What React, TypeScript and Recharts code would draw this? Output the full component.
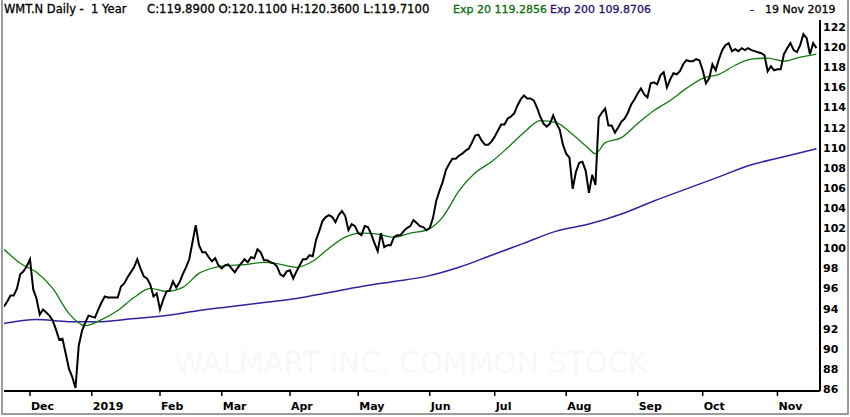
import React from "react"
import { LineChart, Line, XAxis, YAxis } from "recharts"

// daily closes, WMT.N, 20 Nov 2018 - 19 Nov 2019 (trading day index = position)
const closes = [
  94.2, 94.7, 95.3, 95.3, 96.0, 97.4, 97.7, 98.2, 98.9, 95.9,
  95.0, 93.4, 93.9, 93.6, 93.3, 92.8, 91.9, 90.9, 91.0, 89.5,
  88.0, 87.2, 86.1, 90.3, 91.8, 92.6, 93.3, 93.2, 93.1, 93.9,
  94.6, 95.2, 95.1, 95.1, 95.1, 95.1, 96.2, 96.5, 97.1, 97.6,
  98.1, 98.9, 98.0, 97.2, 97.0, 96.4, 95.2, 95.5, 93.9, 94.9,
  95.7, 95.8, 96.7, 96.1, 96.6, 97.4, 98.1, 98.9, 100.6, 102.3,
  100.3, 99.6, 99.6, 99.1, 98.7, 99.0, 98.3, 98.0, 98.3, 98.4,
  98.0, 97.6, 98.1, 98.5, 98.9, 98.6, 99.1, 99.0, 99.9, 99.6,
  98.8, 98.8, 98.6, 98.5, 98.2, 97.4, 97.2, 97.7, 97.8, 97.0,
  97.7, 98.3, 98.9, 98.9, 99.3, 99.2, 100.8, 101.7, 102.7, 103.1,
  103.3, 103.1, 102.6, 103.3, 103.7, 103.2, 101.8, 102.4, 102.2, 101.5,
  101.3, 102.2, 102.1, 101.4, 100.5, 99.7, 101.5, 100.1, 100.3, 100.3,
  101.1, 101.3, 101.3, 101.7, 102.0, 102.2, 102.8, 102.5, 102.2, 102.1,
  101.8, 102.0, 103.0, 104.7, 105.7, 106.6, 107.8, 108.4, 108.9, 108.9,
  109.2, 109.4, 109.7, 109.9, 110.5, 111.2, 111.3, 110.7, 110.3, 110.3,
  110.6, 111.1, 111.7, 112.3, 112.3, 112.9, 113.1, 113.4, 114.2, 114.8,
  115.2, 114.9, 114.9, 114.7, 114.0, 113.1, 112.4, 112.1, 112.4, 113.2,
  112.4, 111.8, 110.3, 109.4, 109.0, 105.9, 107.6, 108.5, 108.6, 107.7,
  105.5, 107.3, 106.3, 113.0, 113.5, 113.9, 112.2, 112.2, 111.5, 112.0,
  112.6, 112.9, 113.5, 114.3, 114.8, 115.4, 115.9, 115.3, 115.0, 116.4,
  116.5, 116.3, 117.2, 117.5, 116.0, 116.8, 117.4, 117.3, 117.6, 118.3,
  118.7, 118.6, 118.6, 118.8, 118.7, 117.7, 116.4, 116.9, 118.3, 117.7,
  118.8, 119.7, 120.2, 120.4, 119.6, 119.8, 119.6, 119.9, 119.7, 119.9,
  119.7, 119.6, 119.5, 119.4, 119.2, 117.6, 118.1, 117.7, 117.8, 117.8,
  119.3, 119.9, 120.4, 119.7, 119.5, 120.2, 121.3, 120.9, 119.3, 120.4, 119.9,
]

// Exp 20
const ema20Days = [
  0, 5, 10, 15, 20, 25, 30, 35, 40, 45, 50, 55, 60, 65, 70, 75, 80, 85, 90, 95,
  100, 105, 110, 115, 120, 125, 130, 135, 140, 145, 150, 155, 160, 165, 170, 175,
  180, 182, 185, 190, 195, 200, 205, 210, 215, 220, 225, 230, 235, 240, 245, 250,
]
const ema20Values = [
  99.9, 98.5, 97.6, 96.0, 93.5, 92.3, 92.9, 93.8, 95.1, 96.0, 95.7, 96.1, 97.5, 98.1, 98.3, 98.4, 98.6, 98.4, 98.1, 98.7,
  100.0, 101.1, 101.5, 101.4, 101.1, 101.5, 101.8, 103.1, 105.7, 107.5, 108.6, 110.0, 111.5, 112.7, 112.5, 111.3,
  109.9, 109.4, 110.5, 111.0, 112.4, 113.7, 114.7, 115.9, 116.9, 117.3, 118.2, 118.8, 118.9, 118.6, 119.0, 119.3,
]

// Exp 200
const ema200Days = [0, 10, 20, 30, 40, 50, 60, 70, 80, 90, 100, 110, 120, 130, 140, 150, 160, 170, 180, 190, 200, 210, 220, 230, 240, 250]
const ema200Values = [
  92.5, 92.9, 92.7, 92.7, 93.0, 93.3, 93.8, 94.2, 94.6, 95.0, 95.6, 96.2, 96.7,
  97.2, 98.1, 99.3, 100.5, 101.7, 102.4, 103.4, 104.7, 105.9, 107.1, 108.3, 109.1, 109.9,
]

const monthTicks = [8, 27, 48, 67, 88, 109, 131, 151, 173, 195, 215, 238]
const monthLabels = ["Dec", "2019", "Feb", "Mar", "Apr", "May", "Jun", "Jul", "Aug", "Sep", "Oct", "Nov"]
const priceTicks = [86, 88, 90, 92, 94, 96, 98, 100, 102, 104, 106, 108, 110, 112, 114, 116, 118, 120, 122]

const closeData = closes.map((c, i) => ({ day: i, close: c }))
const ema20Data = ema20Days.map((d, k) => ({ day: d, ema20: ema20Values[k] }))
const ema200Data = ema200Days.map((d, k) => ({ day: d, ema200: ema200Values[k] }))

const FONT = "'DejaVu Sans', Verdana, sans-serif"

const MonthTick = (props: any) => {
  const { x, y, payload } = props
  const idx = monthTicks.indexOf(payload.value)
  return (
    <text x={x + 1} y={y + 12} textAnchor="start" fontFamily={FONT} fontSize={11} fontWeight="bold" fill="#000">
      {monthLabels[idx]}
    </text>
  )
}

const PriceTick = (props: any) => {
  const { y, payload } = props
  return (
    <text x={823} y={y + 4} textAnchor="start" fontFamily={FONT} fontSize={11} fontWeight="bold" fill="#000">
      {payload.value}
    </text>
  )
}

const titleStyle: React.CSSProperties = {
  position: "absolute",
  top: 3,
  fontFamily: FONT,
  fontSize: 11,
  lineHeight: "13px",
  whiteSpace: "pre",
  color: "#000",
  WebkitTextStroke: "0.3px",
}

export default function App() {
  return (
    <div style={{ position: "absolute", left: 0, top: 0, width: 850, height: 417, background: "#fff", overflow: "hidden" }}>
      <LineChart width={850} height={417} margin={{ top: 20, right: 2, left: 4, bottom: 2 }}>
        <text x={411} y={373} textAnchor="middle" fontFamily={FONT} fontSize={30} fill="#f8f8f8" textLength={473} lengthAdjust="spacingAndGlyphs">
          WALMART INC. COMMON STOCK
        </text>
        <XAxis
          type="number"
          dataKey="day"
          domain={[0, 251.1]}
          ticks={monthTicks}
          interval={0}
          tick={<MonthTick />}
          tickSize={5}
          tickLine={{ stroke: "#000", strokeWidth: 1.5 }}
          axisLine={{ stroke: "#000", strokeWidth: 2 }}
          height={24}
          allowDataOverflow
        />
        <YAxis
          orientation="right"
          type="number"
          domain={[85.8, 122.7]}
          ticks={priceTicks}
          interval={0}
          tick={<PriceTick />}
          tickLine={false}
          tickSize={0}
          axisLine={{ stroke: "#000", strokeWidth: 2 }}
          width={28}
          allowDataOverflow
        />
        <Line data={ema200Data} dataKey="ema200" type="monotone" stroke="#3520a0" strokeWidth={1.5} dot={false} isAnimationActive={false} />
        <Line data={ema20Data} dataKey="ema20" type="monotone" stroke="#107a10" strokeWidth={1.3} dot={false} isAnimationActive={false} />
        <Line data={closeData} dataKey="close" type="linear" stroke="#000" strokeWidth={2} dot={false} isAnimationActive={false} />
      </LineChart>
      <span style={{ ...titleStyle, left: 4, fontSize: 11.5 }}>WMT.N Daily -  1 Year</span>
      <span style={{ ...titleStyle, left: 147, fontSize: 11.7 }}>C:119.8900 O:120.1100 H:120.3600 L:119.7100</span>
      <span style={{ ...titleStyle, left: 453, color: "#0a6e0a" }}>Exp 20 119.2856</span>
      <span style={{ ...titleStyle, left: 550, color: "#2a1070" }}>Exp 200 109.8706</span>
      <span style={{ ...titleStyle, left: 750 }}>-</span>
      <span style={{ ...titleStyle, left: 765 }}>19 Nov 2019</span>
      <div style={{ position: "absolute", left: 1, top: 0, width: 2, height: 415, background: "#9c9c9c" }} />
      <div style={{ position: "absolute", left: 847, top: 0, width: 2, height: 415, background: "#9c9c9c" }} />
      <div style={{ position: "absolute", left: 1, top: 413, width: 848, height: 2, background: "#9c9c9c" }} />
    </div>
  )
}
